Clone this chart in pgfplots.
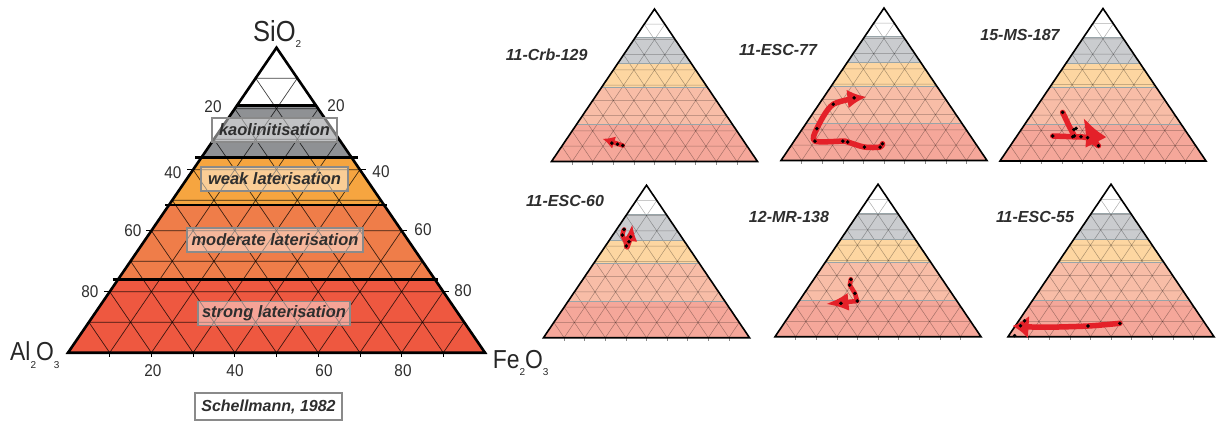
\documentclass[border=0pt]{standalone}
\usepackage{pgfplots}
\pgfplotsset{compat=1.18}
\usepackage{fontspec}
\setmainfont{Liberation Sans}
\usetikzlibrary{arrows.meta}

\definecolor{bigKao}{HTML}{8F9194}
\definecolor{bigWeak}{HTML}{F6A540}
\definecolor{bigMod}{HTML}{EF7D49}
\definecolor{bigStrong}{HTML}{EE5840}
\definecolor{smKao}{HTML}{CACCCF}
\definecolor{smWeak}{HTML}{FDD6A1}
\definecolor{smMod}{HTML}{F8BDA7}
\definecolor{smStrong}{HTML}{F5A79A}
\definecolor{bline}{HTML}{98A4A8}
\definecolor{arrowred}{HTML}{E42129}
\definecolor{labtext}{HTML}{2E2E2E}
\definecolor{boxline}{HTML}{8A8A8A}

\pgfplotsset{
  tri/.style={scale only axis, xmin=0, xmax=100, ymin=0, ymax=100,
    hide axis, clip=false, anchor=south west},
  small/.style={tri, width=206pt, height=152.5pt},
  arr/.style={draw=arrowred, line width=5.5pt, line cap=round, line join=round, forget plot},
  dots/.style={only marks, mark=*, mark size=1.6pt, black, forget plot},
}

% band fills: SiO2 boundaries at 24, 48.5, 64, 81 %
\newcommand{\bands}[4]{%
  \addplot[fill=#1, draw=none, forget plot] coordinates {(32,64) (68,64) (59.5,81) (40.5,81)};
  \addplot[fill=#2, draw=none, forget plot] coordinates {(24.25,48.5) (75.75,48.5) (68,64) (32,64)};
  \addplot[fill=#3, draw=none, forget plot] coordinates {(12,24) (88,24) (75.75,48.5) (24.25,48.5)};
  \addplot[fill=#4, draw=none, forget plot] coordinates {(0,0) (100,0) (88,24) (12,24)};
}
% 10 % ternary grid
\newcommand{\gridlines}[1]{%
  \addplot[#1, line join=round, forget plot] coordinates {(5,10) (95,10) (90,20) (10,20) (15,30) (85,30) (80,40) (20,40) (25,50) (75,50) (70,60) (30,60) (35,70) (65,70) (60,80) (40,80) (45,90) (55,90)};
  \addplot[#1, line join=round, forget plot] coordinates {(10,0) (55,90) (60,80) (20,0) (30,0) (65,70) (70,60) (40,0) (50,0) (75,50) (80,40) (60,0) (70,0) (85,30) (90,20) (80,0) (90,0) (95,10)};
  \addplot[#1, line join=round, forget plot] coordinates {(10,0) (5,10) (10,20) (20,0) (30,0) (15,30) (20,40) (40,0) (50,0) (25,50) (30,60) (60,0) (70,0) (35,70) (40,80) (80,0) (90,0) (45,90)};
}
\newcommand{\border}[1]{%
  \addplot[draw=black, line width=#1, line join=miter, forget plot] coordinates {(0,0) (100,0) (50,100)} -- cycle;
}
\newcommand{\smalltri}{%
  \bands{smKao}{smWeak}{smMod}{smStrong}
  \gridlines{draw=black, draw opacity=0.32, line width=0.5pt}
  \addplot[draw=bline, line width=1pt, forget plot] coordinates {(12,24) (88,24)};
  \addplot[draw=bline, line width=0.8pt, forget plot] coordinates {(24.25,48.5) (75.75,48.5)};
  \addplot[draw=bline, line width=0.8pt, forget plot] coordinates {(32,64) (68,64)};
  \addplot[draw=bline, line width=1pt, forget plot] coordinates {(40.5,81) (59.5,81)};
  \addplot[ycomb, draw=black!45, line width=0.5pt, forget plot] coordinates {(10,-2) (20,-2) (30,-2) (40,-2) (50,-2) (60,-2) (70,-2) (80,-2) (90,-2)};
  \border{1.6pt}
}
\newcommand{\tl}[1]{\scalebox{0.9}[1]{#1}}
\newcommand{\sub}[2]{\raisebox{#1}{\fontsize{10}{10}\selectfont #2}}

\begin{document}
\begin{tikzpicture}
\path[use as bounding box] (0pt,0pt) rectangle (1216pt,421pt);

% ---------------- big Schellmann triangle ----------------
\begin{axis}[tri, at={(68pt,68.3pt)}, width=417pt, height=305pt]
  \bands{bigKao}{bigWeak}{bigMod}{bigStrong}
  \gridlines{draw=black, draw opacity=0.75, line width=0.7pt}
  \addplot[ycomb, draw=black, line width=0.8pt, forget plot] coordinates {(10,-1.5) (20,-1.5) (30,-1.5) (40,-1.5) (50,-1.5) (60,-1.5) (70,-1.5) (80,-1.5) (90,-1.5)};
  \addplot[draw=black, line width=0.8pt, forget plot] coordinates {(10,20) (8.6,20)};
  \addplot[draw=black, line width=0.8pt, forget plot] coordinates {(20,40) (18.6,40)};
  \addplot[draw=black, line width=0.8pt, forget plot] coordinates {(30,60) (28.6,60)};
  \addplot[draw=black, line width=0.8pt, forget plot] coordinates {(90,20) (91.4,20)};
  \addplot[draw=black, line width=0.8pt, forget plot] coordinates {(80,40) (81.4,40)};
  \addplot[draw=black, line width=0.8pt, forget plot] coordinates {(70,60) (71.4,60)};
  \addplot[draw=black, line width=3pt, forget plot] coordinates {(40.2,81) (59.8,81)};
  \addplot[draw=black, line width=2.5pt, forget plot] coordinates {(30.5,64) (69.5,64)};
  \addplot[draw=black, line width=2pt, forget plot] coordinates {(23.3,48.5) (76.5,48.5)};
  \addplot[draw=black, line width=2.5pt, forget plot] coordinates {(10.7,24) (88.8,24)};
  \border{2.6pt}
\end{axis}

% ---------------- small triangles ----------------
% 11-Crb-129
\begin{axis}[small, at={(551.5pt,259.5pt)}]
  \smalltri
  \addplot[arr, line width=4.5pt, -{Latex[length=12pt,width=13pt]}] coordinates {(34.6,10.5) (24.8,14.9)};
  \addplot[dots] coordinates {(34.6,10.5) (32.0,11.3) (29.3,12.1)};
\end{axis}
% 11-ESC-77
\begin{axis}[small, at={(781pt,260.5pt)}]
  \smalltri
  \addplot[arr, smooth, tension=0.5, -{Latex[length=19pt,width=19pt]}] coordinates {(49.3,11.0) (48.1,8.8) (40.5,8.8) (32.4,12.1) (30.0,12.7) (16.5,12.7) (17.4,20.9) (25.4,36.9) (41.5,41.7)};
  \addplot[dots] coordinates {(49.3,11.0) (48.1,8.8) (40.5,8.8) (32.4,12.1) (30.0,12.7) (16.5,12.7) (17.4,20.9) (25.4,36.9) (35.5,41.1)};
\end{axis}
% 15-MS-187
\begin{axis}[small, at={(1000pt,260pt)}]
  \smalltri
  \addplot[arr] coordinates {(30.4,31.9) (33.3,23.6) (36.1,16.4)};
  \addplot[arr] coordinates {(25.6,16.4) (35.3,15.9) (39.3,15.9) (42.5,15.3) (47.8,10.0)};
  \addplot[arr, -{Latex[length=28pt,width=24pt]}] coordinates {(47,11) (40.4,28.6)};
  \addplot[dots] coordinates {(30.4,31.9) (25.6,16.4) (35.3,15.9) (36.1,16.4) (39.3,15.9) (42.5,15.3) (47.8,10.0) (36.9,21.4) (35.9,20.6)};
\end{axis}
% 11-ESC-60
\begin{axis}[small, at={(543.5pt,83.3pt)}]
  \smalltri
  \addplot[arr, line width=4.5pt, smooth] coordinates {(39.1,71.0) (38.3,67.3) (39.9,62.9) (40.2,59.6)};
  \addplot[arr, line width=4.5pt, -{Latex[length=17pt,width=14pt]}] coordinates {(40.7,59.2) (42.3,65.1) (43.1,74.5)};
  \addplot[dots] coordinates {(39.1,71.0) (38.3,67.3) (42.3,66.1) (41.5,62.9) (40.2,60.1)};
\end{axis}
% 12-MR-138
\begin{axis}[small, at={(775pt,84.3pt)}]
  \smalltri
  \addplot[arr, line width=4.5pt] coordinates {(36.8,37.6) (36.3,33.9) (38.8,28.4) (39.9,23.4)};
  \addplot[arr, line width=4.5pt, -{Latex[length=23pt,width=18pt]}] coordinates {(39.9,23.4) (24.5,21.4)};
  \addplot[dots] coordinates {(36.8,37.6) (36.3,33.9) (38.8,28.4) (39.9,23.4) (32.0,21.9)};
\end{axis}
% 11-ESC-55
\begin{axis}[small, at={(1008pt,84.3pt)}]
  \smalltri
  \addplot[arr, smooth, -{Latex[length=16pt,width=23pt]}] coordinates {(54.3,8.8) (38.8,7.0) (16.8,6.2) (2.2,7.0)};
  \addplot[dots] coordinates {(54.3,8.8) (38.8,7.0) (6.1,7.2) (8.0,10.5) (3.2,0.7)};
\end{axis}

% ---------------- texts ----------------
\begin{scope}[every node/.style={text=labtext}]
\tikzset{bandlab/.style={draw=boxline, line width=1.2pt, fill=white, fill opacity=0.45, text opacity=1,
   font=\fontsize{16.5}{18}\selectfont\bfseries\itshape, minimum height=24pt, inner sep=0pt}}
\node[bandlab, minimum width=125pt] at (274.5pt,291pt) {kaolinitisation};
\node[bandlab, minimum width=147pt] at (274.5pt,242pt) {weak laterisation};
\node[bandlab, minimum width=176pt] at (275pt,181pt) {moderate laterisation};
\node[bandlab, minimum width=152pt] at (274pt,107.5pt) {strong laterisation};
\node[draw=boxline, line width=1.5pt, fill=white, minimum width=147pt, minimum height=27pt, inner sep=0pt,
   font=\fontsize{16}{18}\selectfont\bfseries\itshape] at (268.5pt,14.5pt) {Schellmann, 1982};

% apex labels
\node[anchor=base west, inner sep=0pt, font=\fontsize{29}{29}\selectfont, text=black!85] at (253pt,379.3pt)
  {\scalebox{0.88}[1]{SiO}\sub{-6pt}{2}};
\node[anchor=base west, inner sep=0pt, font=\fontsize{26}{26}\selectfont, text=black!85] at (10pt,61pt)
  {\scalebox{0.88}[1]{Al}\sub{-8pt}{2}\scalebox{0.88}[1]{O}\sub{-8pt}{3}};
\node[anchor=base west, inner sep=0pt, font=\fontsize{26}{26}\selectfont, text=black!85] at (492.7pt,52.7pt)
  {\scalebox{0.88}[1]{Fe}\sub{-7.5pt}{2}\scalebox{0.88}[1]{O}\sub{-7.5pt}{3}};

% tick labels
\tikzset{tlab/.style={inner sep=0pt, font=\fontsize{17}{17}\selectfont}}
\node[tlab] at (213pt,314pt) {\tl{20}};
\node[tlab] at (173pt,248pt) {\tl{40}};
\node[tlab] at (133pt,190pt) {\tl{60}};
\node[tlab] at (90pt,129pt) {\tl{80}};
\node[tlab] at (336pt,315pt) {\tl{20}};
\node[tlab] at (381pt,249pt) {\tl{40}};
\node[tlab] at (423pt,191pt) {\tl{60}};
\node[tlab] at (463pt,130pt) {\tl{80}};
\node[tlab] at (153pt,50.3pt) {\tl{20}};
\node[tlab] at (235pt,50.3pt) {\tl{40}};
\node[tlab] at (324pt,50.3pt) {\tl{60}};
\node[tlab] at (403pt,50.3pt) {\tl{80}};

% sample titles
\tikzset{ttl/.style={inner sep=0pt, font=\fontsize{16}{18}\selectfont\bfseries\itshape}}
\node[ttl] at (546.7pt,366pt) {11-Crb-129};
\node[ttl] at (778pt,371pt) {11-ESC-77};
\node[ttl] at (1020pt,386pt) {15-MS-187};
\node[ttl] at (565pt,220.5pt) {11-ESC-60};
\node[ttl] at (789pt,204.3pt) {12-MR-138};
\node[ttl] at (1035pt,204.3pt) {11-ESC-55};
\end{scope}
\end{tikzpicture}
\end{document}
